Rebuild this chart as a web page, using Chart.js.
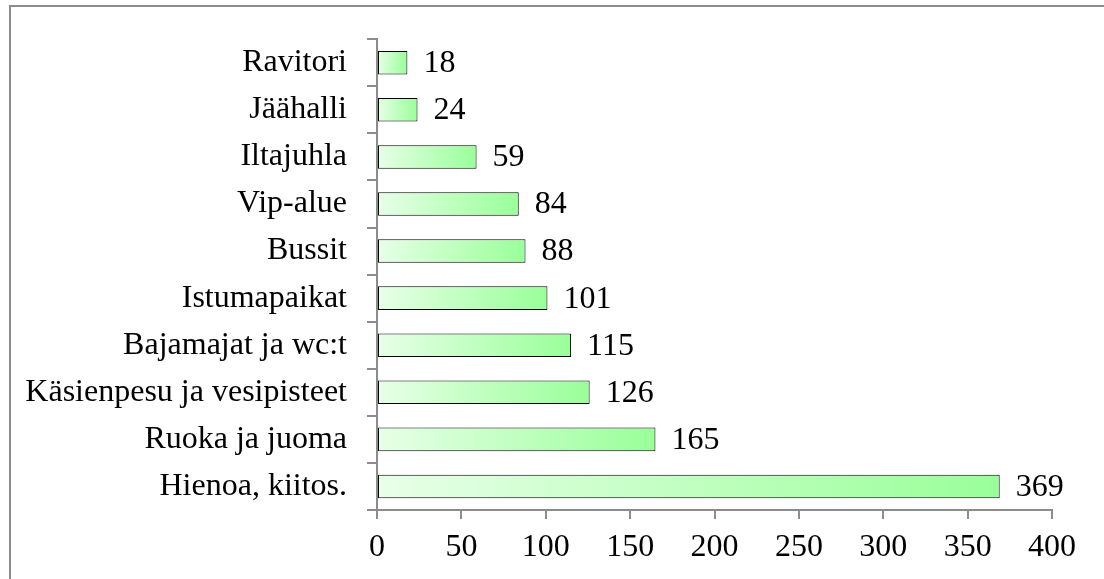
<!DOCTYPE html>
<html>
<head>
<meta charset="utf-8">
<script src="https://cdn.jsdelivr.net/npm/chart.js@4/dist/chart.umd.min.js"></script>
<style>
	html, body { margin: 0; padding: 0; background: #fff; }
	#wrap { position: relative; width: 1104px; height: 579px; }
</style>
</head>
<body>
<div id="wrap"><canvas id="bar-chartcanvas"></canvas></div>
<script>
// answers, top to bottom
var categories = ["Ravitori", "Jäähalli", "Iltajuhla", "Vip-alue", "Bussit", "Istumapaikat",
	"Bajamajat ja wc:t", "Käsienpesu ja vesipisteet", "Ruoka ja juoma", "Hienoa, kiitos."];
var counts = [18, 24, 59, 84, 88, 101, 115, 126, 165, 369];
var xTicks = [0, 50, 100, 150, 200, 250, 300, 350, 400];

var serif = "'Liberation Serif', 'Times New Roman', serif";
var fontSize = 32;
var axisGray = "#8c8c8c";

// each bar fades from pale to green along its own length
function barGradient(context) {
	var chart = context.chart;
	var xs = chart.scales.x;
	if (!xs || !chart.chartArea) {
		return "#99ff99";
	}
	var x0 = xs.getPixelForValue(0);
	var x1 = xs.getPixelForValue(context.raw);
	var g = chart.ctx.createLinearGradient(x0, 0, x1, 0);
	g.addColorStop(0, "#e8ffe8");
	g.addColorStop(1, "#99ff99");
	return g;
}

// white page with the grey frame
var framePlugin = {
	id: "frame",
	beforeDraw: function (chart) {
		var c = chart.ctx;
		c.save();
		c.fillStyle = "#fff";
		c.fillRect(0, 0, chart.width, chart.height);
		c.strokeStyle = axisGray;
		c.lineWidth = 2;
		c.strokeRect(10, 6, chart.width + 20, chart.height + 20);
		c.restore();
	}
};

// numbers written after the bar ends
var valueLabels = {
	id: "valueLabels",
	afterDatasetsDraw: function (chart) {
		var c = chart.ctx;
		var meta = chart.getDatasetMeta(0);
		c.save();
		c.font = fontSize + "px " + serif;
		c.fillStyle = "#000";
		c.textAlign = "left";
		c.textBaseline = "middle";
		meta.data.forEach(function (bar, i) {
			c.fillText(String(counts[i]), bar.x + 16, bar.y + 1);
		});
		c.restore();
	}
};

var ctx = document.getElementById("bar-chartcanvas");

var data = {
	labels: categories,
	datasets: [{
		data: counts,
		backgroundColor: barGradient,
		borderColor: "#000",
		borderWidth: 1,
		borderSkipped: false,
		categoryPercentage: 1,
		barPercentage: 0.5
	}]
};

var options = {
	indexAxis: "y",
	responsive: false,
	animation: false,
	events: [],
	layout: {
		padding: { top: 36, right: 52, bottom: 0, left: 0 }
	},
	plugins: {
		legend: { display: false },
		tooltip: { enabled: false }
	},
	scales: {
		x: {
			min: 0,
			max: 400,
			afterBuildTicks: function (scale) {
				scale.ticks = xTicks.map(function (v) { return { value: v }; });
			},
			afterFit: function (scale) {
				scale.height = 69;
			},
			grid: {
				drawOnChartArea: false,
				tickLength: 9,
				color: axisGray,
				lineWidth: 2
			},
			border: { color: axisGray, width: 2 },
			ticks: {
				padding: 9,
				color: "#000",
				font: { family: serif, size: fontSize },
				maxRotation: 0
			}
		},
		y: {
			afterFit: function (scale) {
				scale.width = 377;
			},
			grid: {
				drawOnChartArea: false,
				offset: true,
				tickLength: 10,
				color: axisGray,
				lineWidth: 2
			},
			border: { color: axisGray, width: 2 },
			ticks: {
				padding: 20,
				color: "#000",
				font: { family: serif, size: fontSize }
			}
		}
	}
};

ctx.width = 1104;
ctx.height = 579;

var chart = new Chart(ctx, {
	type: "bar",
	data: data,
	options: options,
	plugins: [framePlugin, valueLabels]
});
</script>
</body>
</html>
